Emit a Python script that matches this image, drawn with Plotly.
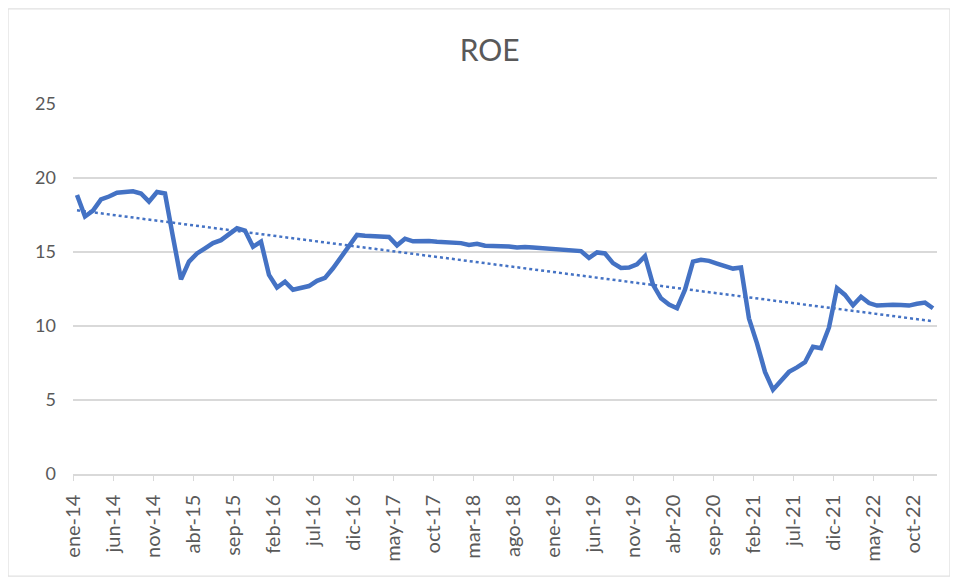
import numpy as np
import plotly.graph_objects as go

# ROE mensual, ene-14 .. dic-22
roe = [
    18.85, 17.4, 17.8, 18.55, 18.75, 19.0, 19.05, 19.1, 18.95, 18.4, 19.05, 18.95,
    16.0, 13.15, 14.35, 14.9, 15.25, 15.6, 15.8, 16.2, 16.6, 16.45, 15.35, 15.7,
    13.45, 12.6, 13.0, 12.45, 12.55, 12.7, 13.05, 13.25, 13.9, 14.65, 15.4, 16.15,
    16.1, 16.08, 16.05, 16.02, 15.45, 15.9, 15.72, 15.75, 15.75, 15.7, 15.67, 15.65,
    15.6, 15.48, 15.56, 15.42, 15.42, 15.44, 15.37, 15.3, 15.34, 15.3, 15.25, 15.2,
    15.16, 15.12, 15.1, 15.06, 14.6, 14.97, 14.9, 14.25, 13.92, 13.95, 14.17, 14.72,
    12.8, 11.87, 11.45, 11.2, 12.45, 14.35, 14.48, 14.4, 14.22, 14.07, 13.88, 13.95,
    10.5, 8.83, 6.9, 5.7, 6.3, 6.9, 7.2, 7.55, 8.6, 8.5, 9.9, 12.55,
    12.1, 11.4, 11.98, 11.55, 11.38, 11.42, 11.43, 11.42, 11.38, 11.5, 11.58, 11.2,
]

etiquetas = ["ene-14", "jun-14", "nov-14", "abr-15", "sep-15", "feb-16", "jul-16",
             "dic-16", "may-17", "oct-17", "mar-18", "ago-18", "ene-19", "jun-19",
             "nov-19", "abr-20", "sep-20", "feb-21", "jul-21", "dic-21", "may-22",
             "oct-22"]

x = np.arange(len(roe))

# tendencia lineal (como la de Excel)
pend, orig = np.polyfit(x, roe, 1)
tendencia = pend * x + orig

fig = go.Figure()
fig.add_trace(go.Scatter(x=x, y=roe, mode="lines", name="ROE",
                         line=dict(color="#4472C4", width=4.5)))
fig.add_trace(go.Scatter(x=x, y=tendencia, mode="lines", name="Lineal (ROE)",
                         line=dict(color="#4472C4", width=2.5, dash="dot")))

gris = "#595959"
# la pagina deja 8px de margen en el body
fig.update_layout(
    width=950, height=569,
    margin=dict(l=65, r=21, t=96, b=103),
    paper_bgcolor="white", plot_bgcolor="white",
    showlegend=False,
    font=dict(family="Lato, Carlito, sans-serif", color=gris, size=18),
    title=dict(text="ROE", x=0.507, xanchor="center", y=0.926, yanchor="middle",
               font=dict(size=30, color=gris)),
)
fig.update_xaxes(
    range=[-0.5, len(roe) - 0.5],
    tickvals=[i * 5 - 0.5 for i in range(len(etiquetas))],
    ticktext=etiquetas,
    tickangle=-90,
    tickfont=dict(size=20),
    showgrid=False, zeroline=False,
    showline=True, linecolor="#d9d9d9", linewidth=1.5,
    ticks="outside", ticklen=5, tickcolor="#d9d9d9",
    ticklabelstandoff=6,
)
fig.update_yaxes(
    range=[0, 25], dtick=5,
    showgrid=True, gridcolor="#d9d9d9", gridwidth=1.5,
    zeroline=False, showline=False, ticks="",
    ticklabelstandoff=16,
)
fig.add_shape(type="rect", xref="paper", yref="paper",
              x0=-0.0752, x1=1.015, y0=-0.276, y1=1.257,
              line=dict(color="#d9d9d9", width=1))

fig.write_html("out.html")
